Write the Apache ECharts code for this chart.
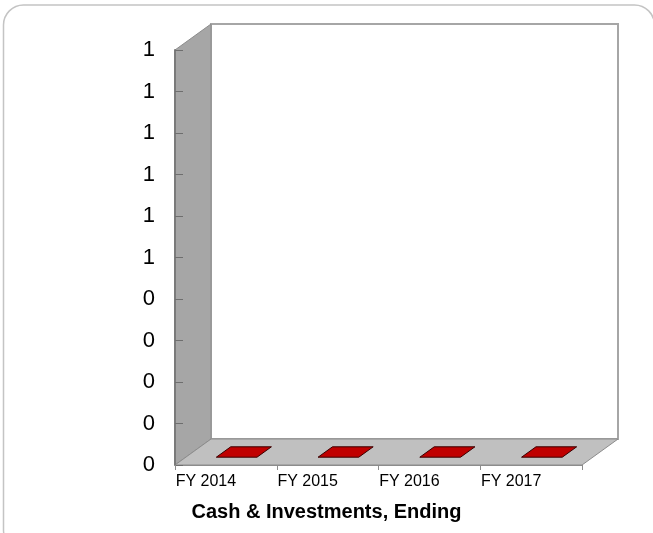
<!DOCTYPE html>
<html>
<head>
<meta charset="utf-8">
<script src="https://cdn.jsdelivr.net/npm/echarts@6/dist/echarts.min.js"></script>
<style>
  html, body { margin: 0; padding: 0; background: #ffffff; }
  #chart { width: 653px; height: 533px; }
</style>
</head>
<body>
<div id="chart"></div>
<script>
// Fiscal years and ending cash & investments
const categories = ['FY 2014', 'FY 2015', 'FY 2016', 'FY 2017'];
const cashValues = [0, 0, 0, 0];

// Value axis range
const yMin = 0;
const yMax = 1;
const yStep = 0.1;

// Pseudo-3D depth of the plot box and where bars sit within it
const DEPTH_X = 36;
const DEPTH_Y = -26;
const BAR_FRONT = 0.3;
const BAR_BACK = 0.7;
const BAR_WIDTH = 0.4;

const FONT = "'Liberation Sans', Arial, sans-serif";

// Back wall, left side wall and floor of the 3D box
function renderFrame(params, api) {
  const cs = params.coordSys;
  const x0 = cs.x, x1 = cs.x + cs.width;
  const yT = cs.y, yB = cs.y + cs.height;
  const dx = DEPTH_X, dy = DEPTH_Y;
  return {
    type: 'group',
    children: [
      {
        type: 'polygon',
        shape: { points: [[x0 + dx, yT + dy], [x1 + dx, yT + dy], [x1 + dx, yB + dy], [x0 + dx, yB + dy]] },
        style: { fill: '#ffffff', stroke: '#a6a6a6', lineWidth: 2 }
      },
      {
        type: 'polygon',
        shape: { points: [[x0, yB], [x0, yT], [x0 + dx, yT + dy], [x0 + dx, yB + dy]] },
        style: { fill: '#a6a6a6', stroke: '#8c8c8c', lineWidth: 1 }
      },
      {
        type: 'polygon',
        shape: { points: [[x0, yB], [x1, yB], [x1 + dx, yB + dy], [x0 + dx, yB + dy]] },
        style: { fill: '#c0c0c0', stroke: '#8c8c8c', lineWidth: 1 }
      }
    ]
  };
}

// A 3D box bar: front face, right face and top face
function renderBar(params, api) {
  const top = api.coord([api.value(0), api.value(1)]);
  const base = api.coord([api.value(0), 0]);
  const w = api.size([1, 0])[0] * BAR_WIDTH;
  const xl = top[0] - w / 2, xr = top[0] + w / 2;
  const fx = DEPTH_X * BAR_FRONT, fy = DEPTH_Y * BAR_FRONT;
  const bx = DEPTH_X * BAR_BACK, by = DEPTH_Y * BAR_BACK;
  const yv = top[1], y0 = base[1];
  const style = { fill: '#c00000', stroke: '#3a0000', lineWidth: 1 };
  const children = [];
  if (Math.abs(y0 - yv) > 0.5) {
    children.push({
      type: 'polygon',
      shape: { points: [[xl + fx, y0 + fy], [xr + fx, y0 + fy], [xr + fx, yv + fy], [xl + fx, yv + fy]] },
      style: style
    });
    children.push({
      type: 'polygon',
      shape: { points: [[xr + fx, y0 + fy], [xr + bx, y0 + by], [xr + bx, yv + by], [xr + fx, yv + fy]] },
      style: { fill: '#900000', stroke: '#3a0000', lineWidth: 1 }
    });
  }
  children.push({
    type: 'polygon',
    shape: { points: [[xl + fx, yv + fy], [xr + fx, yv + fy], [xr + bx, yv + by], [xl + bx, yv + by]] },
    style: style
  });
  return { type: 'group', children: children };
}

const chart = echarts.init(document.getElementById('chart'), null, { renderer: 'canvas' });

chart.setOption({
  animation: false,
  backgroundColor: '#ffffff',
  title: {
    text: 'Cash & Investments, Ending',
    left: 'center',
    top: 502,
    padding: 0,
    textStyle: { fontFamily: FONT, fontSize: 20, fontWeight: 'bold', color: '#000000' }
  },
  graphic: [
    {
      type: 'rect',
      shape: { x: 3.5, y: 5, width: 651, height: 545, r: 20 },
      style: { fill: 'none', stroke: '#c4c4c4', lineWidth: 1.5 },
      z: -10
    }
  ],
  grid: { left: 175, right: 71, top: 50, bottom: 68, containLabel: false },
  xAxis: {
    type: 'category',
    data: categories,
    boundaryGap: true,
    axisLine: { show: true, lineStyle: { color: '#8c8c8c', width: 1 } },
    axisTick: { show: true, length: 5, lineStyle: { color: '#8c8c8c' } },
    axisLabel: {
      fontFamily: FONT,
      fontSize: 16,
      color: '#000000',
      margin: 9,
      padding: [0, 40, 0, 0]
    },
    splitLine: { show: false },
    z: 5
  },
  yAxis: {
    type: 'value',
    min: yMin,
    max: yMax,
    interval: yStep,
    axisLine: { show: true, lineStyle: { color: '#7a7a7a', width: 2 } },
    axisTick: { show: true, inside: true, length: 8, lineStyle: { color: '#6e6e6e' } },
    axisLabel: {
      fontFamily: FONT,
      fontSize: 22,
      color: '#000000',
      margin: 20,
      formatter: function (v) { return String(Math.round(v)); }
    },
    splitLine: { show: false },
    z: 5
  },
  series: [
    {
      type: 'custom',
      name: 'frame',
      renderItem: renderFrame,
      data: [[0, 0]],
      clip: false,
      silent: true,
      z: 1
    },
    {
      type: 'custom',
      name: 'Cash & Investments, Ending',
      renderItem: renderBar,
      encode: { x: 0, y: 1 },
      data: cashValues.map(function (v, i) { return [i, v]; }),
      clip: false,
      z: 3
    }
  ]
});
</script>
</body>
</html>
